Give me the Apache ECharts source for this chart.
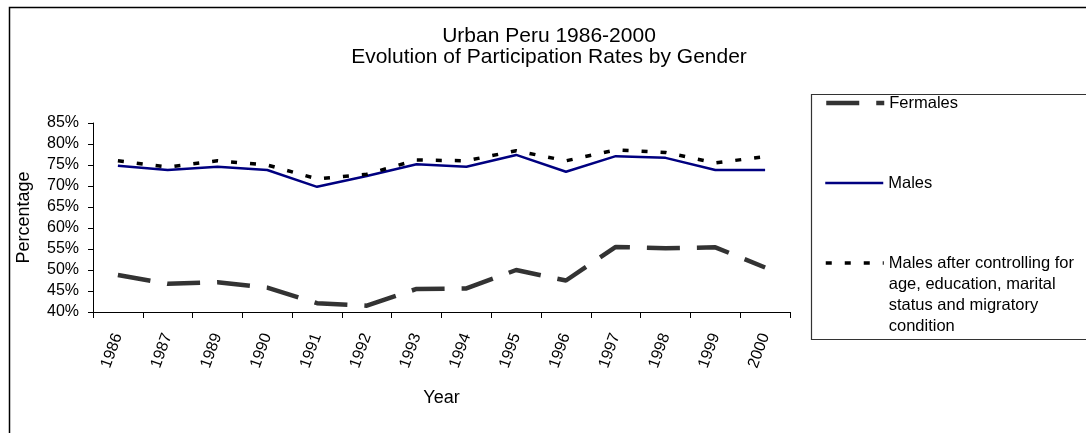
<!DOCTYPE html>
<html>
<head>
<meta charset="utf-8">
<script src="https://cdn.jsdelivr.net/npm/echarts@6/dist/echarts.min.js"></script>
<style>html,body{margin:0;padding:0;background:#fff;}#chart{width:1086px;height:433px;}</style>
</head>
<body>
<div id="chart"></div>
<script>
const years = ['1986','1987','1989','1990','1991','1992','1993','1994','1995','1996','1997','1998','1999','2000'];
const females = [48.8, 46.7, 47.1, 45.8, 42.1, 41.5, 45.5, 45.6, 50.0, 47.5, 55.5, 55.2, 55.4, 50.6];
const males = [74.8, 73.8, 74.6, 73.8, 69.8, 72.4, 75.2, 74.6, 77.4, 73.4, 77.1, 76.7, 73.8, 73.8];
const malesControlled = [76.0, 74.5, 76.0, 75.0, 71.7, 72.8, 76.2, 76.0, 78.4, 76.0, 78.6, 78.0, 75.5, 77.0];
const yTicks = {min: 40, max: 85, step: 5};
const titleLines = ['Urban Peru 1986-2000', 'Evolution of Participation Rates by Gender'];
const names = ['Fermales', 'Males', 'Males after controlling for\nage, education, marital\nstatus and migratory\ncondition'];

const FONT = "'Liberation Sans', Arial, sans-serif";
const chart = echarts.init(document.getElementById('chart'));
const legendCommon = {
  orient: 'vertical', left: 824, padding: 0, itemWidth: 58, itemHeight: 14, itemGap: 0,
  lineStyle: {width: 'inherit'},
  itemStyle: {opacity: 0, borderWidth: 0},
  textStyle: {fontFamily: FONT, fontSize: 16.5, color: '#000', lineHeight: 21},
  selectedMode: false
};
chart.setOption({
  animation: false,
  backgroundColor: '#fff',
  textStyle: {fontFamily: FONT},
  title: {
    text: titleLines.join('\n'),
    left: 549, top: 26, padding: 0, textAlign: 'center',
    textStyle: {fontFamily: FONT, fontSize: 21, fontWeight: 'normal', color: '#000', lineHeight: 21}
  },
  graphic: [
    {type: 'rect', left: 7, top: 5, shape: {x: 0, y: 0, width: 1100, height: 460}, style: {fill: 'none', stroke: '#000', lineWidth: 1.5}, silent: true, z: -1},
    {type: 'rect', left: 809, top: 92, shape: {x: 0, y: 0, width: 300, height: 245}, style: {fill: 'none', stroke: '#333', lineWidth: 1.2}, silent: true, z: -1}
  ],
  legend: [
    Object.assign({}, legendCommon, {top: 92.5, data: [names[0]]}),
    Object.assign({}, legendCommon, {top: 172.5, data: [names[1]]}),
    Object.assign({}, legendCommon, {top: 189.5, data: [names[2]], formatter: function (n) { return '\n\n\n' + n; }})
  ],
  grid: {left: 93, right: 296, top: 123, bottom: 121, containLabel: false},
  xAxis: {
    type: 'category', data: years, boundaryGap: true,
    name: 'Year', nameLocation: 'middle', nameGap: 77,
    nameTextStyle: {fontFamily: FONT, fontSize: 18, color: '#000'},
    axisLine: {lineStyle: {color: '#000', width: 1}},
    axisTick: {show: true, length: 6, lineStyle: {color: '#000'}},
    axisLabel: {interval: 0, rotate: 70, margin: 22, fontFamily: FONT, fontSize: 16, color: '#000'},
    splitLine: {show: false}
  },
  yAxis: {
    type: 'value', min: yTicks.min, max: yTicks.max, interval: yTicks.step,
    name: 'Percentage', nameLocation: 'middle', nameGap: 60, nameRotate: 90,
    nameTextStyle: {fontFamily: FONT, fontSize: 18, color: '#000'},
    axisLine: {show: true, lineStyle: {color: '#000', width: 1}},
    axisTick: {show: true, length: 5, lineStyle: {color: '#000'}},
    axisLabel: {formatter: '{value}%', margin: 14, fontFamily: FONT, fontSize: 16, color: '#000'},
    splitLine: {show: false}
  },
  series: [
    {name: names[0], type: 'line', data: females, symbol: 'none', z: 2,
     lineStyle: {color: '#333333', width: 4.5, type: [33, 17]}, itemStyle: {color: '#333333'}},
    {name: names[1], type: 'line', data: males, symbol: 'none', z: 3,
     lineStyle: {color: '#000080', width: 2.5, type: 'solid'}, itemStyle: {color: '#000080'}},
    {name: names[2], type: 'line', data: malesControlled, symbol: 'none', z: 4,
     lineStyle: {color: '#000000', width: 3.5, type: [6, 13]}, itemStyle: {color: '#000000'}}
  ]
});
</script>
</body>
</html>
